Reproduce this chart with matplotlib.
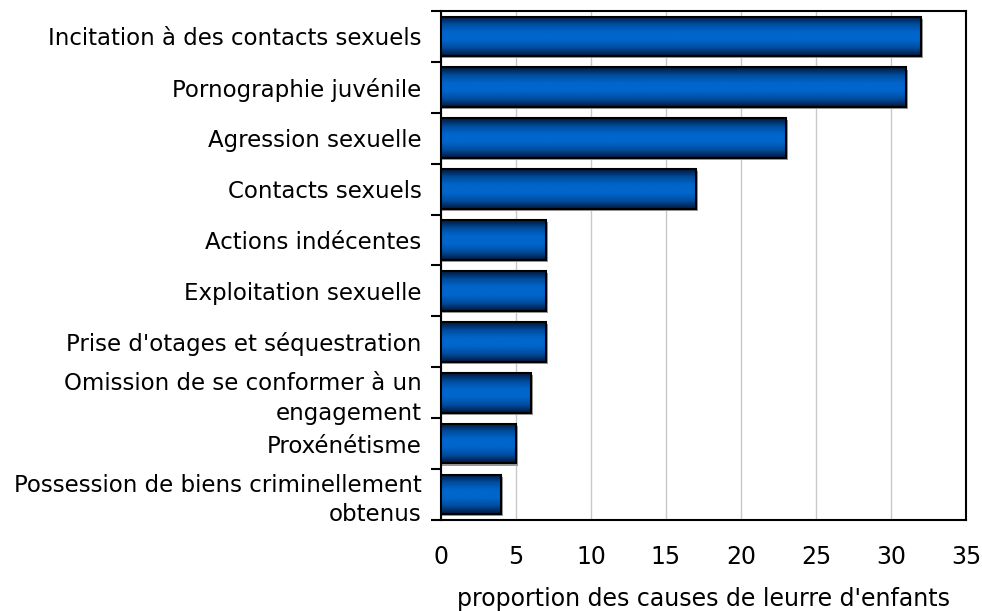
import matplotlib
matplotlib.use("Agg")
import matplotlib.pyplot as plt
import numpy as np
from matplotlib.colors import LinearSegmentedColormap
from matplotlib.patches import Rectangle

categories = [
    "Incitation à des contacts sexuels",
    "Pornographie juvénile",
    "Agression sexuelle",
    "Contacts sexuels",
    "Actions indécentes",
    "Exploitation sexuelle",
    "Prise d'otages et séquestration",
    "Omission de se conformer à un\nengagement",
    "Proxénétisme",
    "Possession de biens criminellement\nobtenus",
]
values = [32, 31, 23, 17, 7, 7, 7, 6, 5, 4]
xlabel = "proportion des causes de leurre d'enfants"

plt.rcParams['font.family'] = ['DejaVu Sans']

fig = plt.figure(figsize=[9.82, 6.11], dpi=100)
ax = fig.add_axes([0.449, 0.149, 0.5347, 0.833])

n = len(categories)
ypos = np.arange(n)
h = 0.78

cmap = LinearSegmentedColormap.from_list(
    "bar", ["#001a3d", "#004c9e", "#0066cc", "#0066cc", "#004c9e", "#001a3d"])
grad = np.linspace(0, 1, 64).reshape(-1, 1)

for y, v in zip(ypos, values):
    # light shadow
    ax.add_patch(Rectangle((0, y - h / 2 + 0.04), v + 0.15, h, facecolor="#9a9a9a",
                           edgecolor="none", zorder=2))
    rect = Rectangle((0, y - h / 2), v, h, facecolor="none", edgecolor="black",
                     linewidth=1.5, zorder=4)
    ax.add_patch(rect)
    im = ax.imshow(grad, cmap=cmap, aspect="auto", extent=[0, v, y + h / 2, y - h / 2],
                   zorder=3, interpolation="bilinear")
    im.set_clip_path(rect)

ax.set_xlim(0, 35)
ax.set_ylim(n - 0.5, -0.5)

ax.set_xticks(np.arange(0, 36, 5))
ax.xaxis.grid(True, color="#c8c8c8", linewidth=1)
ax.set_axisbelow(True)
ax.tick_params(axis="x", length=0, pad=18, labelsize=17)

ax.set_yticks(ypos)
ax.set_yticklabels(categories, fontsize=16.5, linespacing=1.35)
ax.set_yticks(np.arange(-0.5, n, 1), minor=True)
ax.tick_params(axis="y", which="major", length=0, pad=14)
ax.tick_params(axis="y", which="minor", length=7, width=1.5, direction="out")

for s in ax.spines.values():
    s.set_linewidth(1.5)
    s.set_color("black")

ax.set_xlabel(xlabel, fontsize=17, labelpad=13)

plt.savefig("out.png", dpi=100)
